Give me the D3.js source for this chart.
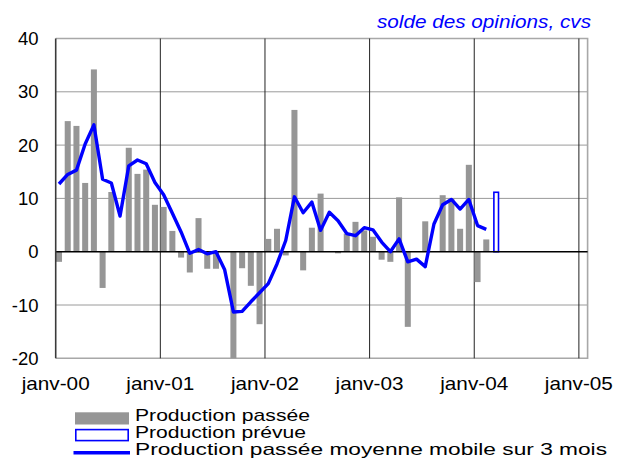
<!DOCTYPE html>
<html>
<head>
<meta charset="utf-8">
<script src="https://cdn.jsdelivr.net/npm/d3@7"></script>
<style>
  html, body { margin: 0; padding: 0; background: #fff; }
  svg { display: block; }
  text { font-family: "Liberation Sans", Arial, sans-serif; }
</style>
</head>
<body>
<svg id="chart" width="621" height="459"></svg>
<script>
// ---------- DATA ----------
const monthNames = ["janv", "févr", "mars", "avr", "mai", "juin", "juil", "août", "sept", "oct", "nov", "déc"];
const years = ["00", "01", "02", "03", "04", "05"];
// monthly categories, janv-00 .. janv-05
const categories = [];
years.forEach(yr => monthNames.forEach(m => categories.push(m + "-" + yr)));
categories.length = 61;

const tickLabels = ["janv-00", "janv-01", "janv-02", "janv-03", "janv-04", "janv-05"];
const yTicks = [40, 30, 20, 10, 0, -10, -20];

// Production passée (bars), janv-00 .. févr-04 (no survey in August)
const productionPassee = [
  -1.9, 24.5, 23.6, 12.9, 34.2, -6.8, 11.2, null, 19.5, 14.6, 15.4, 8.8,
   8.4,  3.9, -1.1, -3.9,  6.3, -3.2, -3.2, null, -20.0, -3.1, -6.4, -13.6,
   2.4,  4.3, -0.7, 26.6, -3.5,  4.5, 10.9, null, -0.3,  3.4,  5.6,  4.0,
   2.8, -1.5, -1.9, 10.2, -14.1, 0.0,  5.7, null, 10.6, 10.0,  4.3, 16.3,
  -5.7,  2.3
];

// Production passée, moyenne mobile sur 3 mois (line), janv-00 .. févr-04
const moyenneMobile = [
  12.7, 14.5, 15.3, 20.2, 23.8, 13.6, 12.9,  6.7, 16.1, 17.2, 16.5, 13.0,
  10.7,  7.2,  3.7, -0.3,  0.4, -0.4,  0.0, -3.4, -11.3, -11.2, -9.4, -7.7,
  -6.0, -2.3,  2.1, 10.3,  7.3,  9.3,  4.0,  7.4,  5.8,  3.4,  3.0,  4.5,
   4.1,  1.8,  0.0,  2.4, -1.9, -1.4, -2.8,  5.2,  8.8,  9.8,  8.0,  9.8,
   4.9,  4.2
];

// Production prévue (outlined bar)
const prevueCategories = ["mars-04"];
const prevueValues = [11.3];

const legendLabels = ["Production passée", "Production prévue", "Production passée moyenne mobile sur 3 mois"];
const titleText = "solde des opinions, cvs";

// ---------- CHART ----------
const svg = d3.select("#chart");
const pLeft = 55.7, pRight = 587.6, pTop = 38.5, pBottom = 358.3;

const x = d3.scaleBand().domain(categories).range([pLeft, pRight]).padding(0);
const y = d3.scaleLinear().domain([-20, 40]).range([pBottom, pTop]);
const bw = x.bandwidth();

// horizontal gridlines
svg.append("g").selectAll("line")
  .data(yTicks.filter(v => v !== 0 && v !== 40 && v !== -20))
  .join("line")
  .attr("x1", pLeft).attr("x2", pRight)
  .attr("y1", d => y(d)).attr("y2", d => y(d))
  .attr("stroke", "#9a9a9a").attr("stroke-width", 1);

// plot frame (top, right, bottom)
svg.append("path")
  .attr("d", `M${pLeft},${y(40)}H${pRight}V${y(-20)}H${pLeft}`)
  .attr("fill", "none").attr("stroke", "#a8a8a8").attr("stroke-width", 1.6);

// vertical year lines
svg.append("g").selectAll("line")
  .data(tickLabels.slice(1))
  .join("line")
  .attr("x1", d => x(d)).attr("x2", d => x(d))
  .attr("y1", pTop).attr("y2", pBottom)
  .attr("stroke", "#222").attr("stroke-width", 1);

// bars
const barW = bw * 0.69;
svg.append("g").selectAll("rect")
  .data(productionPassee.map((v, i) => ({ c: categories[i], v })).filter(d => d.v !== null && d.v !== 0))
  .join("rect")
  .attr("x", d => x(d.c) + 0.3)
  .attr("width", barW)
  .attr("y", d => y(Math.max(0, d.v)))
  .attr("height", d => Math.abs(y(d.v) - y(0)))
  .attr("fill", "#969696");

// forecast bar
svg.append("g").selectAll("rect")
  .data(prevueValues.map((v, i) => ({ c: prevueCategories[i], v })))
  .join("rect")
  .attr("x", d => x(d.c) + 2.2)
  .attr("width", barW - 1.4)
  .attr("y", d => y(d.v) + 0.8)
  .attr("height", d => y(0) - y(d.v) - 0.8)
  .attr("fill", "#fff")
  .attr("stroke", "#0000ff").attr("stroke-width", 1.6);

// zero line
svg.append("line")
  .attr("x1", pLeft).attr("x2", pRight)
  .attr("y1", y(0)).attr("y2", y(0))
  .attr("stroke", "#000").attr("stroke-width", 1.6);

// left axis line
svg.append("line")
  .attr("x1", pLeft).attr("x2", pLeft)
  .attr("y1", pTop).attr("y2", pBottom)
  .attr("stroke", "#3a3a3a").attr("stroke-width", 1.6);

// moving average line
const line = d3.line()
  .x((d, i) => x(categories[i]) + 0.3 + barW / 2)
  .y(d => y(d));
svg.append("path")
  .datum(moyenneMobile)
  .attr("d", line)
  .attr("fill", "none")
  .attr("stroke", "#0000ff")
  .attr("stroke-width", 3.4)
  .attr("stroke-linejoin", "round");

// y tick labels
svg.append("g").selectAll("text")
  .data(yTicks)
  .join("text")
  .attr("x", 38.5)
  .attr("y", d => y(d))
  .attr("dy", "0.36em")
  .attr("text-anchor", "end")
  .attr("font-size", 18.5)
  .attr("fill", "#000")
  .text(d => d);

// x tick labels
svg.append("g").selectAll("text")
  .data(tickLabels)
  .join("text")
  .attr("x", d => x(d) - 34)
  .attr("y", 389.5)
  .attr("font-size", 19)
  .attr("textLength", 68)
  .attr("lengthAdjust", "spacingAndGlyphs")
  .attr("fill", "#000")
  .text(d => d);

// title
svg.append("text")
  .attr("x", 377)
  .attr("y", 28.3)
  .attr("font-size", 18.5)
  .attr("font-style", "italic")
  .attr("fill", "#0000ff")
  .attr("textLength", 214)
  .attr("lengthAdjust", "spacingAndGlyphs")
  .text(titleText);

// legend
const lg = svg.append("g");
lg.append("rect").attr("x", 75).attr("y", 412.3).attr("width", 54).attr("height", 12.2).attr("fill", "#969696");
lg.append("rect").attr("x", 75.8).attr("y", 429.6).attr("width", 52.4).attr("height", 11)
  .attr("fill", "#fff").attr("stroke", "#0000ff").attr("stroke-width", 1.6);
lg.append("line").attr("x1", 73.5).attr("x2", 130).attr("y1", 452.8).attr("y2", 452.8)
  .attr("stroke", "#0000ff").attr("stroke-width", 3.4);
const legendY = [420.5, 437.5, 454.5];
const legendW = [175, 171, 472];
lg.selectAll("text")
  .data(legendLabels)
  .join("text")
  .attr("x", 135)
  .attr("y", (d, i) => legendY[i])
  .attr("font-size", 17)
  .attr("textLength", (d, i) => legendW[i])
  .attr("lengthAdjust", "spacingAndGlyphs")
  .attr("fill", "#000")
  .text(d => d);
</script>
</body>
</html>
